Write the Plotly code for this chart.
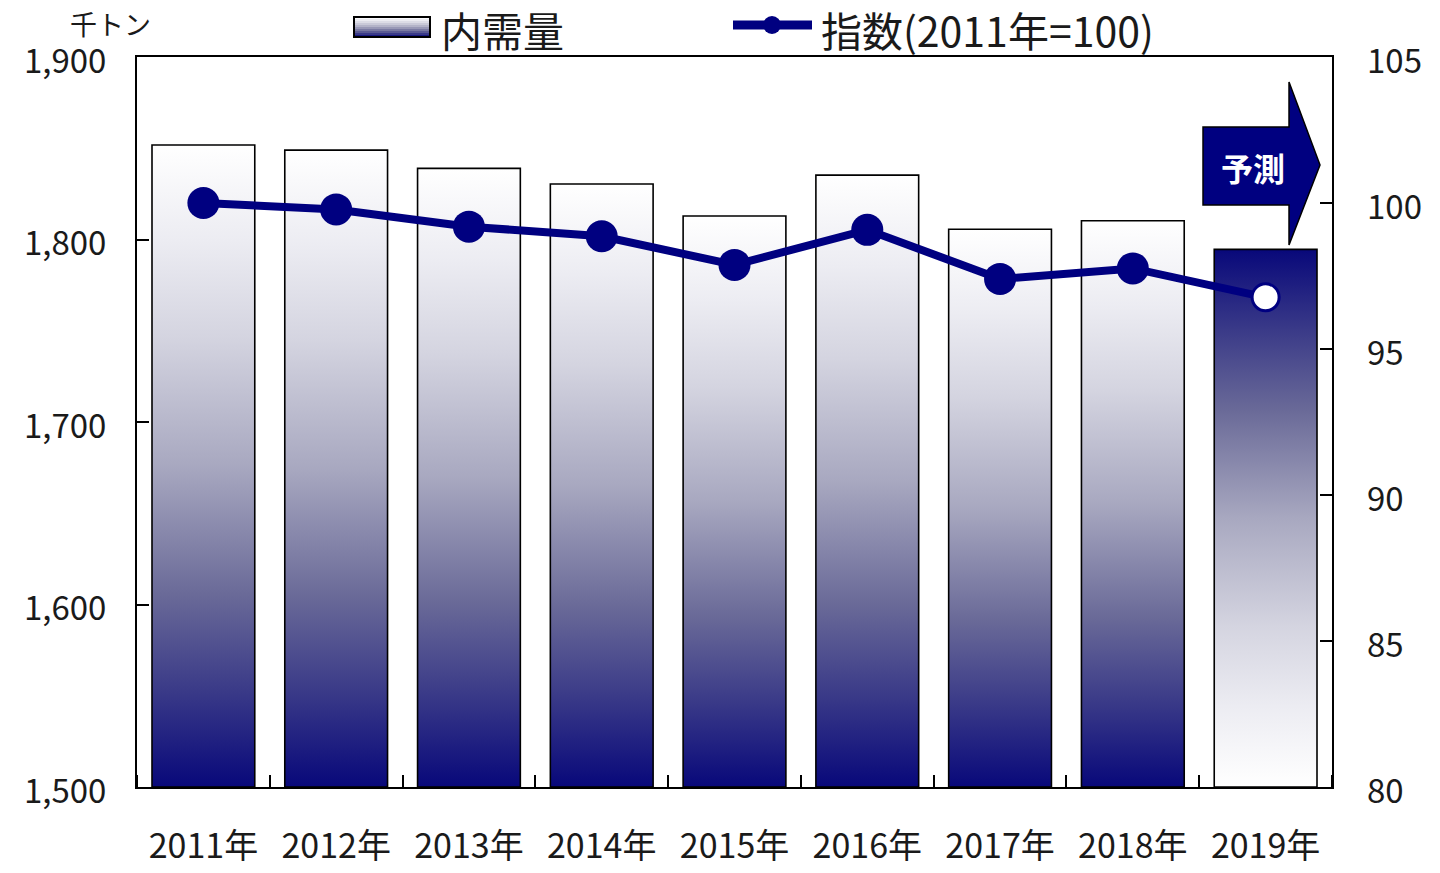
import plotly.graph_objects as go
import plotly.colors as pc

# ---------------- data ----------------
years = ["2011年", "2012年", "2013年", "2014年", "2015年", "2016年", "2017年", "2018年", "2019年"]
demand = [1851.8, 1849.0, 1839.0, 1830.4, 1812.9, 1835.3, 1805.6, 1810.3, 1794.6]   # 千トン
index_vals = [100.0, 99.78, 99.19, 98.86, 97.88, 99.08, 97.40, 97.76, 96.77]       # 2011年=100
forecast = [False, False, False, False, False, False, False, False, True]
left_ticks = [1500, 1600, 1700, 1800, 1900]
right_ticks = [80, 85, 90, 95, 100, 105]

NAVY = "#000080"
FONT = "Noto Sans CJK JP"
TXT = "#1a1a1a"

# gradient (0 = bottom of bar, 1 = top)
grad_up = [[0.0, "#08087a"], [0.15, "#3a3a88"], [0.3, "#6a6a98"], [0.5, "#a8a8c0"],
           [0.7, "#d4d4e0"], [0.85, "#ececf2"], [1.0, "#ffffff"]]
grad_down = [[1 - p, c] for p, c in reversed(grad_up)]

Y0, Y1 = 1500, 1900
R0, R1 = 80, 105
HALF = 0.387

W, H = 1440, 873
# plot area in pixels
PL, PR, PT, PB = 137, 1332, 57, 787

def px_x(p):
    return -0.5 + (p - PL) / (PR - PL) * 9
def px_y(p):
    return Y1 - (p - PT) / (PB - PT) * (Y1 - Y0)
def paper_x(p):
    return (p - PL) / (PR - PL)
def paper_y(p):
    return (PB - p) / (PB - PT)

fig = go.Figure()

# bars with vertical gradient fill
for i, (v, fc) in enumerate(zip(demand, forecast)):
    fig.add_trace(go.Scatter(
        x=[i - HALF, i + HALF, i + HALF, i - HALF, i - HALF],
        y=[Y0, Y0, v, v, Y0],
        mode="lines", fill="toself",
        line=dict(color="black", width=1.6),
        fillgradient=dict(type="vertical", start=Y0, stop=v,
                          colorscale=grad_down if fc else grad_up),
        hoverinfo="skip", showlegend=False,
    ))

# index line
fig.add_trace(go.Scatter(
    x=list(range(len(years))), y=index_vals, yaxis="y2",
    mode="lines+markers",
    line=dict(color=NAVY, width=8),
    marker=dict(size=[32 if not f else 27 for f in forecast],
                color=["white" if f else NAVY for f in forecast],
                opacity=1,
                line=dict(color=NAVY, width=[0 if not f else 3 for f in forecast])),
    showlegend=False,
))

shapes = []
# forecast arrow
arrow_pts = [(1203, 127), (1289, 127), (1289, 82), (1320, 165), (1289, 245), (1289, 205), (1203, 205)]
path = "M " + " L ".join(f"{px_x(a):.4f},{px_y(b):.3f}" for a, b in arrow_pts) + " Z"
shapes.append(dict(type="path", xref="x", yref="y", path=path,
                   fillcolor=NAVY, line=dict(color="black", width=1.5), layer="above"))

# legend swatch (gradient approximated with strips)
sx0, sx1, sy0, sy1 = 354, 430, 17, 37
nstrip = 10
for k in range(nstrip):
    t = 1 - (k + 0.5) / nstrip
    col = pc.sample_colorscale(grad_up, [t])[0]
    ya = sy0 + (sy1 - sy0) * k / nstrip
    yb = sy0 + (sy1 - sy0) * (k + 1) / nstrip
    shapes.append(dict(type="rect", xref="paper", yref="paper",
                       x0=paper_x(sx0), x1=paper_x(sx1), y0=paper_y(yb), y1=paper_y(ya),
                       fillcolor=col, line=dict(width=0)))
shapes.append(dict(type="rect", xref="paper", yref="paper",
                   x0=paper_x(sx0), x1=paper_x(sx1), y0=paper_y(sy1), y1=paper_y(sy0),
                   line=dict(color="black", width=2)))
# legend line + marker
shapes.append(dict(type="line", xref="paper", yref="paper",
                   x0=paper_x(733), x1=paper_x(812), y0=paper_y(25), y1=paper_y(25),
                   line=dict(color=NAVY, width=9)))
shapes.append(dict(type="circle", xref="paper", yref="paper",
                   x0=paper_x(763), x1=paper_x(781), y0=paper_y(34), y1=paper_y(16),
                   fillcolor=NAVY, line=dict(width=0)))

annotations = [
    dict(text="千トン", xref="paper", yref="paper", x=paper_x(153), y=paper_y(23),
         xanchor="right", yanchor="middle", showarrow=False,
         font=dict(family=FONT, size=27, color=TXT)),
    dict(text="内需量", xref="paper", yref="paper", x=paper_x(439), y=paper_y(29),
         xanchor="left", yanchor="middle", showarrow=False,
         font=dict(family=FONT, size=41, color=TXT)),
    dict(text="指数(2011年=100)", xref="paper", yref="paper", x=paper_x(819), y=paper_y(29),
         xanchor="left", yanchor="middle", showarrow=False,
         font=dict(family=FONT, size=41, color=TXT)),
    dict(text="<b>予測</b>", xref="x", yref="y", x=px_x(1253), y=px_y(167),
         xanchor="center", yanchor="middle", showarrow=False,
         font=dict(family=FONT, size=32, color="white")),
]

fig.update_layout(
    width=W, height=H,
    margin=dict(l=PL, r=W - PR, t=PT, b=H - PB, autoexpand=False),
    paper_bgcolor="white", plot_bgcolor="white",
    font=dict(family=FONT, color=TXT),
    showlegend=False,
    shapes=shapes, annotations=annotations,
    xaxis=dict(range=[-0.5, 8.5], tickvals=list(range(len(years))), ticktext=years,
               ticks="", showgrid=False, zeroline=False, automargin=False,
               showline=True, mirror=True, linecolor="black", linewidth=2,
               tickfont=dict(family=FONT, size=34, color=TXT), ticklabelstandoff=28,
               minor=dict(tick0=0.5, dtick=1, ticks="inside", ticklen=12,
                          tickwidth=2, tickcolor="black", showgrid=False)),
    yaxis=dict(range=[Y0, Y1], tickvals=left_ticks, tickformat=",",
               ticks="inside", ticklen=12, tickwidth=2, tickcolor="black",
               showgrid=False, zeroline=False, automargin=False,
               showline=True, mirror=True, linecolor="black", linewidth=2,
               tickfont=dict(family=FONT, size=33, color=TXT),
               ticklabelstandoff=22, ticklabelshift=4),
    yaxis2=dict(range=[R0, R1], tickvals=right_ticks,
                overlaying="y", side="right", automargin=False,
                ticks="inside", ticklen=12, tickwidth=2, tickcolor="black",
                showgrid=False, zeroline=False, showline=False,
                tickfont=dict(family=FONT, size=33, color=TXT),
                ticklabelstandoff=34, ticklabelshift=4),
)

# remove the browser's default 8px body margin so the figure sits at the page origin
fig.write_html("out.html", config={"displayModeBar": False},
               post_script="document.body.style.margin='0';")
